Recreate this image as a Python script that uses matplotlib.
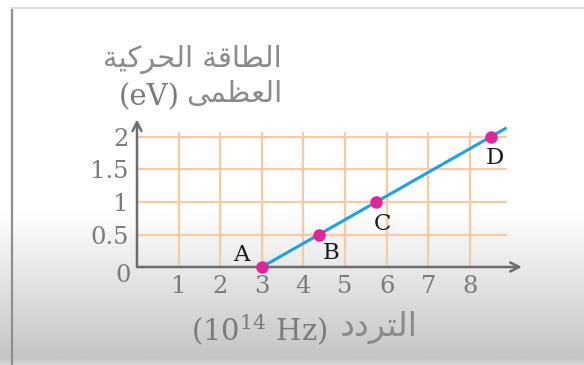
import numpy as np
import matplotlib.pyplot as plt

# values
x_ticks = [1, 2, 3, 4, 5, 6, 7, 8]
x_tick_labels = ['1', '2', '3', '4', '5', '6', '7', '8']
y_ticks = [0.5, 1, 1.5, 2]
y_tick_labels = ['0.5', '1', '1.5', '2']

point_names = ['A', 'B', 'C', 'D']
point_freq = [3.0, 4.37, 5.75, 8.5]
point_energy = [0.0, 0.5, 1.0, 2.0]

line_freq = [3.0, 8.85]
line_energy = [0.0, 2.13]

# arabic words, written in visual order with presentation forms
# (matplotlib does no shaping / rtl by itself)
w_taqa = '\uFE94\uFED7\uFE8E\uFEC4\uFEDF\uFE8D'          # الطاقة
w_haraki = '\uFE94\uFEF4\uFEDB\uFEAE\uFEA4\uFEDF\uFE8D'  # الحركية
w_uzma = '\uFEF0\uFEE4\uFEC8\uFECC\uFEDF\uFE8D'          # العظمى
w_taraddud = '\uFEA9\uFEA9\uFEAE\uFE98\uFEDF\uFE8D'      # التردد

y_label_1 = w_haraki + ' ' + w_taqa
y_unit = '(eV)'
x_unit = r'(10$^{14}$ Hz)'

plt.rcParams['mathtext.fontset'] = 'dejavuserif'
fonts = ['DejaVu Serif', 'DejaVu Sans']
grey = '#7b7b7b'
ar_grey = '#8a8a8a'
grid_c = '#f9caa0'

W, H = 584, 365
fig = plt.figure(figsize=(W / 100, H / 100), dpi=100)

# background: white card fading to grey at the bottom
bg = fig.add_axes([0, 0, 1, 1])
rows = np.arange(H)
shade = np.interp(rows, [0, 210, 358, 365], [1.0, 1.0, 0.77, 0.86])
bg.imshow(shade[:, None] * np.ones((1, 8)), cmap='gray', vmin=0, vmax=1,
          extent=[0, 1, 0, 1], aspect='auto', interpolation='bilinear')
bg.plot([12 / W, 12 / W], [0, 1 - 10 / H], color='#8e8e8e', lw=1.6)
bg.plot([12 / W, 1], [1 - 8 / H, 1 - 8 / H], color='#d6d6d6', lw=1.2)
bg.set_xlim(0, 1)
bg.set_ylim(0, 1)
bg.axis('off')

ax = fig.add_axes([137 / W, 98 / H, 387 / W, 149.5 / H])
ax.set_facecolor('none')
ax.set_xlim(0, 9.3)
ax.set_ylim(0, 2.3)
for s in ax.spines.values():
    s.set_visible(False)

# grid
ax.vlines(x_ticks, 0, 2.08, color=grid_c, lw=1.6, zorder=1)
ax.hlines(y_ticks, 0, 8.9, color=grid_c, lw=1.6, zorder=1)

# axes with arrows
arrow = dict(arrowstyle='->', color='#6c6c6c', lw=1.8, mutation_scale=16,
             shrinkA=0, shrinkB=0)
ax.annotate('', xy=(9.25, 0), xytext=(0, 0), arrowprops=arrow, zorder=2)
ax.annotate('', xy=(0, 2.27), xytext=(0, 0), arrowprops=arrow, zorder=2)

ax.set_xticks(x_ticks)
ax.set_xticklabels(x_tick_labels)
ax.set_yticks(y_ticks)
ax.set_yticklabels(y_tick_labels)
ax.tick_params(length=0, labelsize=17.5, labelcolor=grey)
ax.tick_params(axis='x', pad=6)
ax.tick_params(axis='y', pad=6)
for t in ax.get_xticklabels() + ax.get_yticklabels():
    t.set_family(fonts)
ax.annotate('0', xy=(0, 0), xytext=(-10, -6), textcoords='offset points',
            ha='center', va='center', fontsize=17.5, color=grey, family=fonts)

# line and points
ax.plot(line_freq, line_energy, color='#1ba3e3', lw=2.2, zorder=3)
ax.plot(point_freq, point_energy, 'o', color='#e0269b', ms=9,
        mec='none', zorder=4, clip_on=False)

offsets = [(-14.5, 8.5), (8.5, -13.5), (4.5, -16), (3, -15)]
for name, fx, ey, off in zip(point_names, point_freq, point_energy, offsets):
    ax.annotate(name, xy=(fx, ey), xytext=off, textcoords='offset points',
                ha='center', va='center', fontsize=16.5, color='#1a1a1a',
                family=fonts)

# axis titles
fig.text(282 / W, 1 - 60 / H, y_label_1, ha='right', va='center',
         fontsize=21, color=ar_grey, family=fonts)
fig.text(180 / W, 1 - 97 / H, y_unit, ha='right', va='center',
         fontsize=21, color=grey, family=fonts)
fig.text(282 / W, 1 - 94 / H, w_uzma, ha='right', va='center',
         fontsize=21, color=ar_grey, family=fonts)
fig.text(327 / W, 1 - 330 / H, x_unit, ha='right', va='center',
         fontsize=21, color=grey, family=fonts)
fig.text(418 / W, 1 - 328 / H, w_taraddud, ha='right', va='center',
         fontsize=24, color=ar_grey, family=fonts)

fig.savefig('out.png', dpi=100)
